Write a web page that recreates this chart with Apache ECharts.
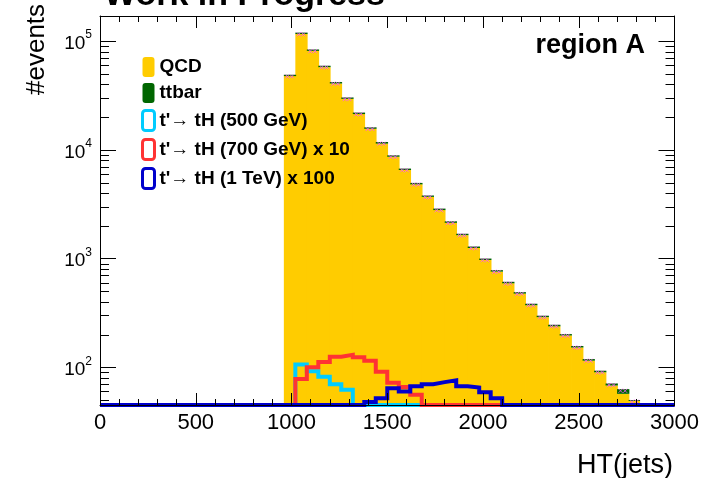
<!DOCTYPE html>
<html><head><meta charset="utf-8">
<script src="https://cdn.jsdelivr.net/npm/echarts@6/dist/echarts.min.js"></script>
<style>html,body{margin:0;padding:0;background:#fff}#c{width:702px;height:478px}</style>
</head><body><div id="c"></div>
<script>
// ---- data ----
const binEdges = [960,1020,1080,1140,1200,1260,1320,1380,1440,1500,1560,1620,1680,1740,1800,1860,1920,1980,2040,2100,2160,2220,2280,2340,2400,2460,2520,2580,2640,2700,2760,2820];
const qcd   = [47600,116000,81200,57500,40700,29400,21300,15600,11400,8630,6520,4810,3690,2790,2130,1640,1250,970,758,592,476,372,289,238,196,152,115,90,68,57,49];
const ttbar = [1400,3600,2500,1800,1300,900,700,500,400,270,200,150,110,90,70,50,40,30,24,19,15,12,9,8,6,5,4,3,3,6,1];
const sig500  = [0,106,92,82,70,62,0,0,0,0,0,0,0,0,0,0,0,0,0,0,0,0,0,0,0,0,0,0,0,0,0];
const sig700  = [0,78,100,112,125,130,124,115,91,72,66,56,0,0,0,0,0,0,0,0,0,0,0,0,0,0,0,0,0,0,0];
const sig1000 = [0,0,0,0,0,0,0,48,52,64,60,67,70,73,76,67,65,59,52,0,0,0,0,0,0,0,0,0,0,0,0];
const xTicks = [0,500,1000,1500,2000,2500,3000];
const yMajorTicks = [100,1000,10000,100000];
const yMinorTicks = [50,60,70,80,90,200,300,400,500,600,700,800,900,2000,3000,4000,5000,6000,7000,8000,9000,20000,30000,40000,50000,60000,70000,80000,90000];
const names = {qcd:'QCD', tt:'ttbar', s5:"t'\u2192 tH (500 GeV)", s7:"t'\u2192 tH (700 GeV) x 10", s1:"t'\u2192 tH (1 TeV) x 100"};

// ---- config ----
const X_MIN = 0, X_MAX = 3000, Y_MIN = 45, Y_MAX = 170000;
const FONT = '"Liberation Sans", Arial, Helvetica, sans-serif';
const C = {qcd:'#ffcc00', tt:'#006600', s5:'#00ccff', s7:'#ff3333', s1:'#0000cc', err:'#ff55ff'};

const qcdData = qcd.map((v,i)=>[binEdges[i], binEdges[i+1], Y_MIN, v]);
const ttData  = ttbar.map((v,i)=>[binEdges[i], binEdges[i+1], qcd[i], qcd[i]+v]);
// small error markers near the top of each stacked bin (two per bin)
const errData = [];
qcd.forEach((v,i)=>{
  const lo = binEdges[i], hi = binEdges[i+1], top = v + ttbar[i];
  errData.push([lo + (hi-lo)*0.3, top*0.965]);
  errData.push([lo + (hi-lo)*0.7, top*0.965]);
});
function stepData(arr){
  const pts = [[X_MIN, Y_MIN]];
  arr.forEach((v,i)=>pts.push([binEdges[i], Math.max(v, Y_MIN)]));
  pts.push([binEdges[binEdges.length-1], Y_MIN]);
  pts.push([X_MAX, Y_MIN]);
  return pts;
}
function rectItem(params, api){
  const a = api.coord([api.value(0), api.value(3)]);
  const b = api.coord([api.value(1), api.value(2)]);
  const last = params.dataIndex === params.dataInsideLength - 1;
  return {type:'rect', shape:{x:a[0], y:a[1], width:b[0]-a[0] + (last?0:0.8), height:b[1]-a[1]}, style:{fill:api.visual('color')}};
}
function lineSeries(name, arr, color, z){
  return {type:'line', name, data:stepData(arr), step:'end', showSymbol:false, symbol:'none', z,
    lineStyle:{color, width:4, join:'miter'}, itemStyle:{color}, clip:true, animation:false};
}
const tickStyle = {color:'#000', width:1};
const chart = echarts.init(document.getElementById('c'), null, {renderer:'canvas'});
chart.setOption({
  animation:false,
  backgroundColor:'#fff',
  grid:{left:100, right:27, top:16, bottom:73, show:false},
  legend:{
    orient:'vertical', left:136, top:52, itemWidth:12, itemHeight:20, itemGap:6, selectedMode:false,
    textStyle:{fontFamily:FONT, fontWeight:'bold', fontSize:19, color:'#000'},
    data:[
      {name:names.qcd, icon:'roundRect', itemStyle:{color:C.qcd, borderWidth:0}},
      {name:names.tt, icon:'roundRect', itemStyle:{color:C.tt, borderWidth:0}},
      {name:names.s5, icon:'roundRect', itemStyle:{color:'#fff', borderColor:C.s5, borderWidth:3}},
      {name:names.s7, icon:'roundRect', itemStyle:{color:'#fff', borderColor:C.s7, borderWidth:3}},
      {name:names.s1, icon:'roundRect', itemStyle:{color:'#fff', borderColor:C.s1, borderWidth:3}}
    ]
  },
  xAxis:[
    {type:'value', min:X_MIN, max:X_MAX, interval:500, position:'bottom', z:10,
     axisLine:{show:true, onZero:false, lineStyle:tickStyle},
     axisTick:{show:true, inside:true, length:12, lineStyle:tickStyle},
     minorTick:{show:true, splitNumber:5, length:6, lineStyle:tickStyle},
     splitLine:{show:false},
     axisLabel:{fontFamily:FONT, fontSize:22, color:'#000', margin:7,
       formatter:(v)=> xTicks.includes(v) ? String(v) : ''}},
    {type:'value', min:X_MIN, max:X_MAX, interval:500, position:'top', z:10,
     axisLine:{show:true, onZero:false, lineStyle:tickStyle},
     axisTick:{show:true, inside:true, length:12, lineStyle:tickStyle},
     minorTick:{show:true, splitNumber:5, length:6, lineStyle:tickStyle},
     splitLine:{show:false}, axisLabel:{show:false}}
  ],
  yAxis:[
    {type:'log', min:Y_MIN, max:Y_MAX, position:'left', z:10,
     axisLine:{show:true, onZero:false, lineStyle:tickStyle},
     axisTick:{show:true, inside:true, length:16, lineStyle:tickStyle},
     splitLine:{show:false},
     axisLabel:{showMinLabel:false, showMaxLabel:false, margin:8, color:'#000',
       formatter:(v)=>{ if(!yMajorTicks.some(t=>Math.abs(t-v)/t<1e-6)) return ''; return '{b|10}{s|'+Math.round(Math.log10(v))+'}'; },
       rich:{b:{fontFamily:FONT, fontSize:19, color:'#000', lineHeight:24, verticalAlign:'bottom'},
             s:{fontFamily:FONT, fontSize:12, color:'#000', lineHeight:24, verticalAlign:'top', padding:[0,0,6,0]}}}},
    {type:'log', min:Y_MIN, max:Y_MAX, position:'right', z:10,
     axisLine:{show:true, onZero:false, lineStyle:tickStyle},
     axisTick:{show:true, inside:true, length:16, lineStyle:tickStyle},
     splitLine:{show:false}, axisLabel:{show:false}}
  ],
  graphic:[
    {type:'text', x:104, y:13, z:100, style:{text:'Work in Progress', font:'bold 34px '+FONT, fill:'#000', verticalAlign:'bottom', align:'left'}},
    {type:'text', x:645, y:46, z:100, style:{text:'region A', font:'bold 27px '+FONT, fill:'#000', verticalAlign:'middle', align:'right'}},
    {type:'text', x:673, y:466, z:100, style:{text:'HT(jets)', font:'27px '+FONT, fill:'#000', verticalAlign:'middle', align:'right'}},
    {type:'text', x:37, y:95, rotation:Math.PI/2, z:100, style:{text:'#events', font:'26px '+FONT, fill:'#000', verticalAlign:'middle', align:'left'}}
  ],
  series:[
    {type:'custom', name:names.qcd, renderItem:rectItem, data:qcdData, encode:{x:[0,1], y:[2,3]}, itemStyle:{color:C.qcd}, z:1, clip:true},
    {type:'custom', name:names.tt, renderItem:rectItem, data:ttData, encode:{x:[0,1], y:[2,3]}, itemStyle:{color:C.tt}, z:2, clip:true},
    {type:'scatter', name:'err', data:errData, z:2, silent:true, symbolSize:4, symbol:'path://M0,0L10,10M10,0L0,10',
     itemStyle:{color:'none', borderColor:C.err, borderWidth:1, opacity:0.8}},
    lineSeries(names.s5, sig500, C.s5, 3),
    lineSeries(names.s7, sig700, C.s7, 4),
    lineSeries(names.s1, sig1000, C.s1, 5),
    {type:'custom', name:'minorY', silent:true, z:11, data:yMinorTicks.map(v=>[X_MIN, v]), encode:{x:0, y:1},
     renderItem:(p, api)=>{
       const a = api.coord([X_MIN, api.value(1)]), b = api.coord([X_MAX, api.value(1)]);
       const y = Math.round(a[1]) + 0.5;
       return {type:'group', children:[
         {type:'line', shape:{x1:a[0], y1:y, x2:a[0]+9, y2:y}, style:{stroke:'#000', lineWidth:1}},
         {type:'line', shape:{x1:b[0]-9, y1:y, x2:b[0], y2:y}, style:{stroke:'#000', lineWidth:1}}
       ]};
     }}
  ]
});
</script>
</body></html>
